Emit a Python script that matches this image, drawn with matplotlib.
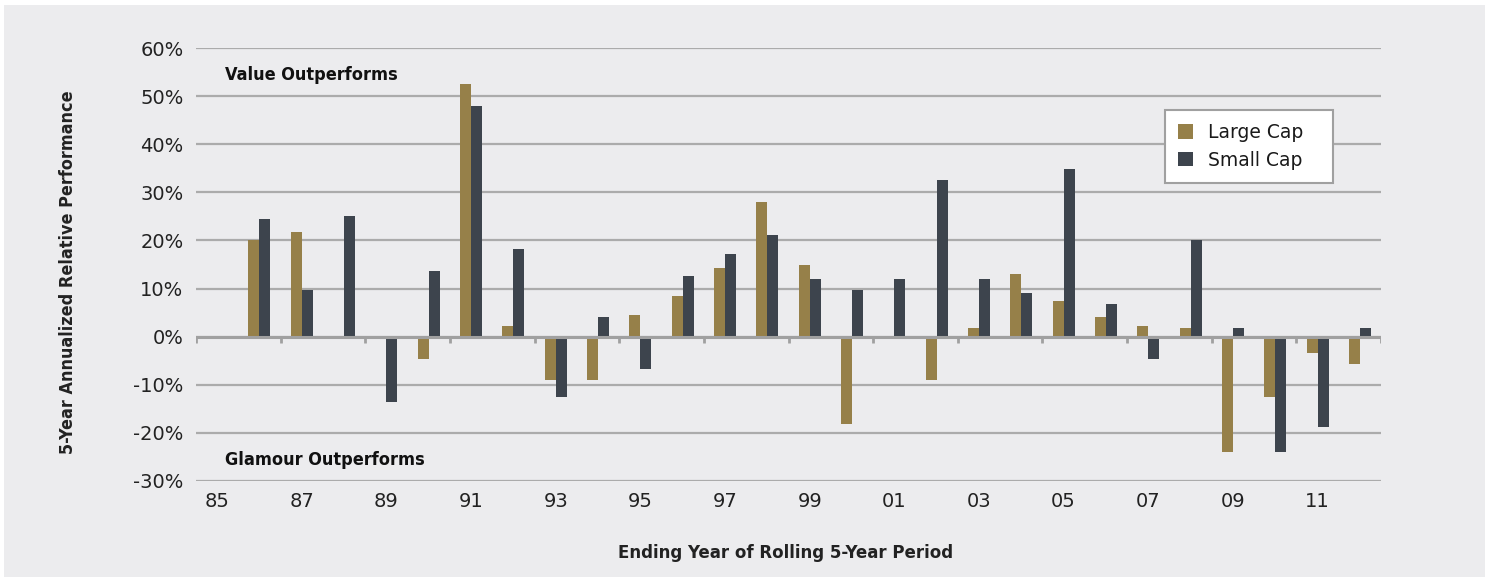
import numpy as np
import matplotlib
matplotlib.use("Agg")
import matplotlib.pyplot as plt
from matplotlib.patches import Rectangle

years = list(range(1985, 2013))
tick_labels = ["85", "87", "89", "91", "93", "95", "97", "99", "01", "03", "05", "07", "09", "11"]
large_cap = [0.0, 20.0, 21.7, 0.0, 0.0, -4.6, 52.6, 2.3, -9.1, -9.1, 4.5, 8.5, 14.2, 28.0,
             14.8, -18.2, -0.4, -9.1, 1.7, 13.1, 7.4, 4.0, 2.3, 1.7, -24.0, -12.5, -3.4, -5.7]
small_cap = [0.0, 24.5, 9.8, 25.1, -13.6, 13.7, 48.0, 18.2, -12.5, 4.0, -6.8, 12.6, 17.1, 21.1,
             12.0, 9.7, 12.0, 32.5, 12.0, 9.1, 34.8, 6.8, -4.6, 20.0, 1.7, -24.0, -18.8, 1.7]
series_names = ["Large Cap", "Small Cap"]
colors = ["#968049", "#3D444D"]

W, H = 1485, 577
fig = plt.figure(figsize=(W / 100, H / 100), dpi=100, facecolor="white")
bg = "#ECECEE"
fig.patches.append(Rectangle((4 / W, 0), 1 - 4 / W, 1 - 5 / H, transform=fig.transFigure,
                             facecolor=bg, edgecolor="none", zorder=-10))

ax = fig.add_axes([196 / W, 1 - 481 / H, (1381 - 196) / W, (481 - 48) / H])
ax.patch.set_visible(False)

x = np.arange(len(years))
bw = 0.26
ax.bar(x - bw / 2, large_cap, width=bw, color=colors[0], label=series_names[0], zorder=3)
ax.bar(x + bw / 2, small_cap, width=bw, color=colors[1], label=series_names[1], zorder=3)

ax.set_xlim(-0.5, len(years) - 0.5)
ax.set_ylim(-30, 60)
yt = np.arange(-30, 61, 10)
ax.set_yticks(yt)
ax.set_yticklabels([f"{v}%" for v in yt])
ax.yaxis.grid(True, color="#ABABAB", linewidth=1.6, zorder=1)
ax.set_axisbelow(True)
ax.tick_params(axis="y", length=0, pad=9, labelsize=14, labelcolor="#222222")

ax.set_xticks(x[::2])
ax.set_xticklabels(tick_labels)
ax.tick_params(axis="x", length=0, pad=8, labelsize=14, labelcolor="#222222")

for s in ax.spines.values():
    s.set_visible(False)

# zero line and its tick marks
ax.axhline(0, color="#A0A0A0", linewidth=2.2, zorder=4)
for b in np.arange(-0.5, len(years), 2):
    ax.plot([b, b], [0, -1.3], color="#A0A0A0", linewidth=2, zorder=4, solid_capstyle="butt")

bold_kw = dict(fontweight="bold", family="DejaVu Sans", fontstretch="condensed")
ax.text(0.0245, 54.4, "Value Outperforms", transform=ax.get_yaxis_transform(),
        va="center", ha="left", color="#111111", fontsize=13, **bold_kw)
ax.text(0.0245, -25.6, "Glamour Outperforms", transform=ax.get_yaxis_transform(),
        va="center", ha="left", color="#111111", fontsize=13, **bold_kw)

fig.text(68 / W, 1 - 272 / H, "5-Year Annualized Relative Performance", rotation=90,
         ha="center", va="center", color="#222222", fontsize=12.9, **bold_kw)
fig.text(786 / W, 1 - 553 / H, "Ending Year of Rolling 5-Year Period",
         ha="center", va="center", color="#222222", fontsize=13.3, **bold_kw)

lx0 = (1165 - 196) / 1185
lw_ = (1333 - 1165) / 1185
ly0 = 1 - (182 - 48) / 433
lh = (182 - 110) / 433
leg = ax.legend(loc="upper left", bbox_to_anchor=(lx0, ly0, lw_, lh), mode="expand",
                frameon=True, fancybox=False, fontsize=13.5, handlelength=0.8, handleheight=0.8,
                borderpad=0.7, labelspacing=0.45, handletextpad=0.8, borderaxespad=0)
leg.get_frame().set_edgecolor("#A0A0A0")
leg.get_frame().set_linewidth(1.5)
leg.get_frame().set_facecolor("white")
leg.get_frame().set_alpha(1)
leg.set_zorder(6)
for t in leg.get_texts():
    t.set_color("#1A1A1A")

fig.savefig("out.png", dpi=100, facecolor="white")
